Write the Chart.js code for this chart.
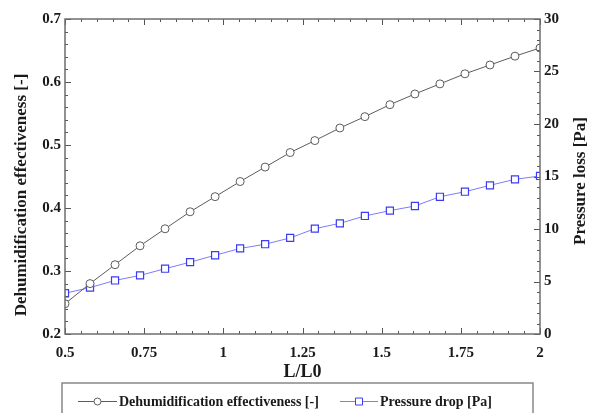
<!DOCTYPE html>
<html>
<head>
<meta charset="utf-8">
<script src="https://cdn.jsdelivr.net/npm/chart.js@4"></script>
<style>
  html, body { margin: 0; padding: 0; background: #fff; }
  #wrap { width: 590px; height: 413px; }
</style>
</head>
<body>
<div id="wrap"><canvas id="myChart" width="590" height="413"></canvas></div>
<script>
// L/L0 ratios (x positions of the markers)
const ratios = [0.5, 0.579, 0.658, 0.737, 0.816, 0.895, 0.974, 1.053, 1.132, 1.211,
                1.289, 1.368, 1.447, 1.526, 1.605, 1.684, 1.763, 1.842, 1.921, 2.0];
// dehumidification effectiveness [-], left axis
const effectiveness = [0.248, 0.280, 0.310, 0.340, 0.367, 0.394, 0.418, 0.442, 0.465, 0.488,
                       0.507, 0.527, 0.545, 0.564, 0.581, 0.597, 0.613, 0.627, 0.641, 0.654];
// pressure drop [Pa], right axis
const pressure = [3.88, 4.42, 5.10, 5.58, 6.22, 6.84, 7.50, 8.15, 8.55, 9.15,
                  10.03, 10.54, 11.24, 11.75, 12.19, 13.07, 13.55, 14.16, 14.73, 15.05];

const seriesNames = ['Dehumidification effectiveness [-]', 'Pressure drop [Pa]'];
const xTitle = 'L/L0';
const yTitle = 'Dehumidification effectiveness [-]';
const y2Title = 'Pressure loss [Pa]';

const serif = '"Liberation Serif", "Times New Roman", serif';
Chart.defaults.font.family = serif;
Chart.defaults.font.weight = 'bold';
Chart.defaults.color = '#1a1a1a';

// plain number labels: 0.75, 1, 1.25 ...
const plain = v => String(Math.round(v * 100) / 100);

// box round the plot, inward ticks, rotated y titles and the boxed legend
const decor = {
  id: 'decor',
  afterDraw(chart) {
    const ctx = chart.ctx;
    const a = chart.chartArea;
    const sx = chart.scales.x, sy = chart.scales.y, sy2 = chart.scales.y2;
    ctx.save();

    // inward ticks
    ctx.strokeStyle = '#555';
    ctx.lineWidth = 1;
    const marks = (scale, min, step, n, every, draw) => {
      for (let i = 0; i <= n; i++) {
        const p = Math.round(scale.getPixelForValue(min + i * step)) + 0.5;
        draw(p, i % every === 0 ? 6 : 3);
      }
    };
    ctx.beginPath();
    marks(sx, 0.5, 0.05, 30, 5, (p, len) => {
      ctx.moveTo(p, a.bottom); ctx.lineTo(p, a.bottom - len);
      ctx.moveTo(p, a.top); ctx.lineTo(p, a.top + len);
    });
    marks(sy, 0.2, 0.02, 25, 5, (p, len) => {
      ctx.moveTo(a.left, p); ctx.lineTo(a.left + len, p);
    });
    marks(sy2, 0, 1, 30, 5, (p, len) => {
      ctx.moveTo(a.right, p); ctx.lineTo(a.right - len, p);
    });
    ctx.stroke();

    // frame
    ctx.strokeStyle = '#6e6e6e';
    ctx.lineWidth = 1.5;
    ctx.strokeRect(a.left, a.top, a.right - a.left, a.bottom - a.top);

    // y titles, both reading bottom to top
    ctx.fillStyle = '#1a1a1a';
    ctx.font = 'bold 17px ' + serif;
    ctx.textAlign = 'center';
    ctx.textBaseline = 'middle';
    ctx.save();
    ctx.translate(22, 195);
    ctx.rotate(-Math.PI / 2);
    ctx.fillText(yTitle, 0, 0);
    ctx.restore();
    ctx.save();
    ctx.translate(581, 181);
    ctx.rotate(-Math.PI / 2);
    ctx.fillText(y2Title, 0, 0);
    ctx.restore();

    // legend box
    ctx.strokeStyle = '#888';
    ctx.lineWidth = 1.5;
    ctx.strokeRect(62, 383, 471, 40);
    ctx.font = 'bold 14px ' + serif;
    ctx.textAlign = 'left';
    const items = [[78, 119], [340, 380]];
    chart.data.datasets.forEach((ds, i) => {
      const [x0, tx] = items[i];
      const y = 401;
      ctx.strokeStyle = ds.borderColor;
      ctx.lineWidth = 1;
      ctx.beginPath();
      ctx.moveTo(x0, y + 0.5); ctx.lineTo(tx - 2, y + 0.5);
      ctx.stroke();
      const cx = (x0 + tx - 2) / 2;
      ctx.fillStyle = '#fff';
      ctx.strokeStyle = ds.pointBorderColor;
      ctx.beginPath();
      if (ds.pointStyle === 'rect') ctx.rect(cx - 3.5, y - 3, 7, 7);
      else ctx.arc(cx, y + 0.5, 3.5, 0, Math.PI * 2);
      ctx.fill(); ctx.stroke();
      ctx.fillStyle = '#1a1a1a';
      ctx.fillText(ds.label, tx, y + 1);
    });
    ctx.restore();
  }
};

const ctx = document.getElementById('myChart').getContext('2d');
new Chart(ctx, {
  type: 'line',
  data: {
    datasets: [{
      label: seriesNames[0],
      data: ratios.map((r, i) => ({ x: r, y: effectiveness[i] })),
      yAxisID: 'y',
      borderColor: '#5c5c5c',
      borderWidth: 1,
      pointStyle: 'circle',
      pointRadius: 4,
      pointBorderColor: '#5c5c5c',
      pointBackgroundColor: '#fff',
      pointBorderWidth: 1,
      tension: 0
    }, {
      label: seriesNames[1],
      data: ratios.map((r, i) => ({ x: r, y: pressure[i] })),
      yAxisID: 'y2',
      borderColor: '#7d7df7',
      borderWidth: 1,
      pointStyle: 'rect',
      pointRadius: 5,
      pointBorderColor: '#3c3cf2',
      pointBackgroundColor: '#fff',
      pointBorderWidth: 1.2,
      tension: 0
    }]
  },
  options: {
    responsive: false,
    animation: false,
    layout: { padding: { top: 19, bottom: 30, left: 0, right: 0 } },
    plugins: {
      legend: { display: false },
      tooltip: { enabled: false }
    },
    scales: {
      x: {
        type: 'linear',
        min: 0.5, max: 2,
        grid: { display: false, drawTicks: false },
        border: { display: false },
        ticks: { stepSize: 0.25, padding: 10, callback: plain, font: { size: 15, weight: 'bold' }, color: '#1a1a1a' },
        title: { display: true, text: xTitle, padding: 0, font: { size: 18, weight: 'bold' }, color: '#1a1a1a' },
        afterFit: s => { s.height = 49; }
      },
      y: {
        position: 'left',
        min: 0.2, max: 0.7,
        grid: { display: false, drawTicks: false },
        border: { display: false },
        ticks: { stepSize: 0.1, padding: 4, callback: plain, font: { size: 15, weight: 'bold' }, color: '#1a1a1a' },
        afterFit: s => { s.width = 65; }
      },
      y2: {
        position: 'right',
        min: 0, max: 30,
        grid: { display: false, drawTicks: false },
        border: { display: false },
        ticks: { stepSize: 5, padding: 4, callback: plain, font: { size: 15, weight: 'bold' }, color: '#1a1a1a' },
        afterFit: s => { s.width = 50; }
      }
    }
  },
  plugins: [decor]
});
</script>
</body>
</html>
